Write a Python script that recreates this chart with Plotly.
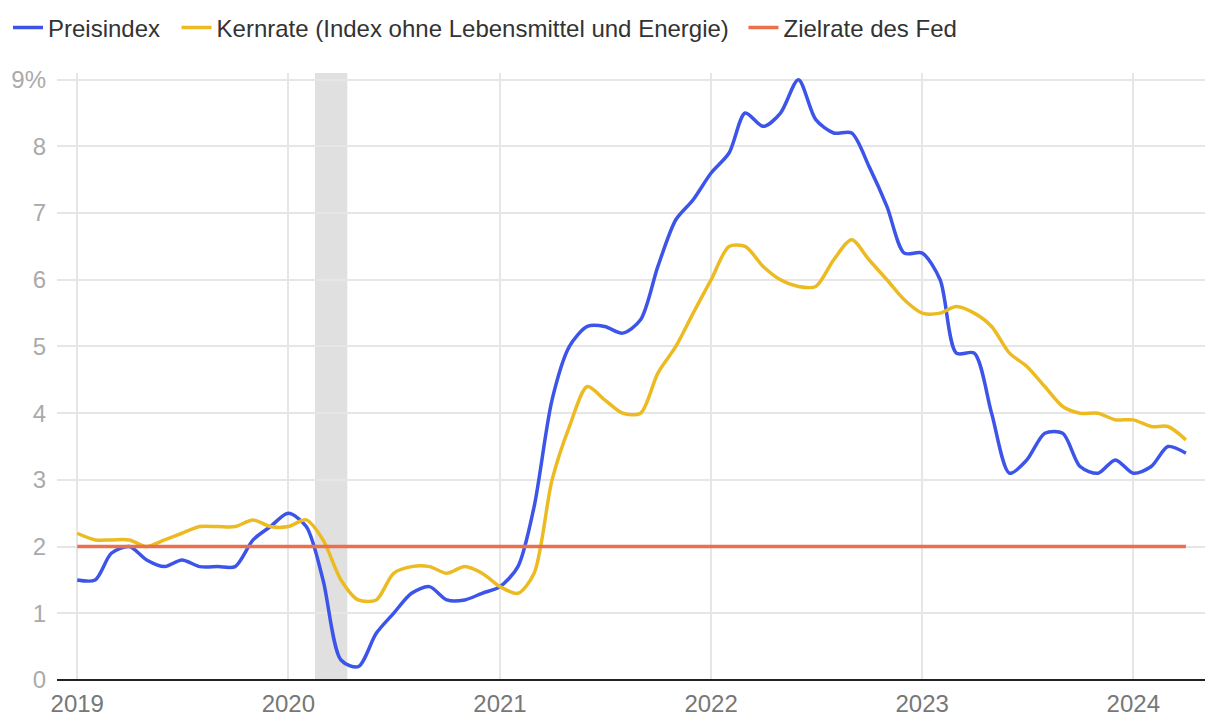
import pandas as pd
import plotly.graph_objects as go

# monthly observations, Jan 2019 .. Apr 2024
months = pd.date_range("2019-01-01", "2024-04-01", freq="MS")

preisindex = [
    1.5, 1.5, 1.9, 2.0, 1.8, 1.7, 1.8, 1.7, 1.7, 1.7, 2.1, 2.3,
    2.5, 2.3, 1.5, 0.3, 0.2, 0.7, 1.0, 1.3, 1.4, 1.2, 1.2, 1.3,
    1.4, 1.7, 2.6, 4.2, 5.0, 5.3, 5.3, 5.2, 5.4, 6.2, 6.9, 7.2,
    7.6, 7.9, 8.5, 8.3, 8.5, 9.0, 8.4, 8.2, 8.2, 7.7, 7.1, 6.4,
    6.4, 6.0, 4.9, 4.9, 4.0, 3.1, 3.3, 3.7, 3.7, 3.2, 3.1, 3.3,
    3.1, 3.2, 3.5, 3.4,
]
kernrate = [
    2.2, 2.1, 2.1, 2.1, 2.0, 2.1, 2.2, 2.3, 2.3, 2.3, 2.4, 2.3,
    2.3, 2.4, 2.1, 1.5, 1.2, 1.2, 1.6, 1.7, 1.7, 1.6, 1.7, 1.6,
    1.4, 1.3, 1.6, 3.0, 3.8, 4.4, 4.2, 4.0, 4.0, 4.6, 5.0, 5.5,
    6.0, 6.5, 6.5, 6.2, 6.0, 5.9, 5.9, 6.3, 6.6, 6.3, 6.0, 5.7,
    5.5, 5.5, 5.6, 5.5, 5.3, 4.9, 4.7, 4.4, 4.1, 4.0, 4.0, 3.9,
    3.9, 3.8, 3.8, 3.6,
]
fed_dates = ["2019-01-01", "2024-04-01"]
fed_target = [2.0, 2.0]

# recession band (NBER, Feb-Apr 2020)
recession = ("2020-02-16", "2020-04-12")

year_ticks = ["2019-01-01", "2020-01-01", "2021-01-01", "2022-01-01", "2023-01-01", "2024-01-01"]
year_labels = ["2019", "2020", "2021", "2022", "2023", "2024"]
y_ticks = [0, 1, 2, 3, 4, 5, 6, 7, 8, 9]
y_labels = ["0", "1", "2", "3", "4", "5", "6", "7", "8", "9%"]

FONT = "Liberation Sans, Arial, Helvetica, sans-serif"
W, H = 1212, 718  # page body has an 8px margin

fig = go.Figure()

fig.add_vrect(x0=recession[0], x1=recession[1], fillcolor="#e0e0e0",
              line_width=0, layer="below")

# trailing thin spaces widen the gaps between legend entries a little
fig.add_trace(go.Scatter(
    x=months, y=preisindex, name="Preisindex\u00a0\u2009", mode="lines",
    line=dict(color="#3c55e8", width=3.5, shape="spline", smoothing=0.8),
    legendrank=1,
))
fig.add_trace(go.Scatter(
    x=months, y=kernrate,
    name="Kernrate (Index ohne Lebensmittel und Energie)\u2009\u2009",
    mode="lines",
    line=dict(color="#ecbb22", width=3.5, shape="spline", smoothing=0.8),
    legendrank=2,
))
fig.add_trace(go.Scatter(
    x=fed_dates, y=fed_target, name="Zielrate des Fed", mode="lines",
    line=dict(color="#ea6f4b", width=3.5),
    legendrank=3,
))

fig.update_layout(
    width=W, height=H,
    margin=dict(l=49, r=15, t=65, b=46),
    paper_bgcolor="white", plot_bgcolor="white",
    font=dict(family=FONT, size=24, color="#333"),
    hovermode=False,
    legend=dict(
        orientation="h", xref="container", yref="container",
        x=0, xanchor="left", y=1 - 20 / H, yanchor="middle",
        font=dict(size=24, color="#333"), traceorder="normal",
        itemwidth=30, bgcolor="rgba(0,0,0,0)",
    ),
    xaxis=dict(
        range=["2018-11-27", "2024-05-04"],
        tickvals=year_ticks, ticktext=year_labels,
        showgrid=True, gridcolor="#e6e6e6", gridwidth=2,
        tickfont=dict(color="#777", size=24),
        ticks="", ticklabelstandoff=7,
        zeroline=False, showline=False, automargin=False,
    ),
    yaxis=dict(
        range=[0, 9.1],
        tickvals=y_ticks, ticktext=y_labels,
        showgrid=True, gridcolor="#e6e6e6", gridwidth=2,
        tickfont=dict(color="#aaa", size=24),
        ticks="", ticklabelstandoff=10,
        zeroline=True, zerolinecolor="#222", zerolinewidth=2,
        showline=False, automargin=False,
    ),
)

fig.write_html("out.html")
